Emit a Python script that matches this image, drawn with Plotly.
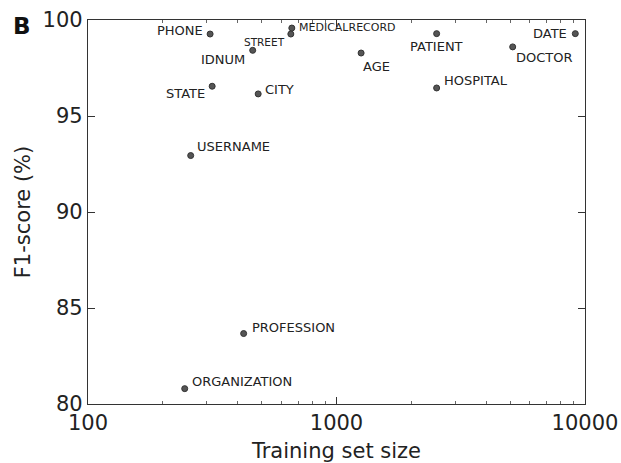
import math
import plotly.graph_objects as go

labels = ["PHONE", "MEDICALRECORD", "STREET", "IDNUM", "STATE", "CITY", "USERNAME",
          "PROFESSION", "ORGANIZATION", "AGE", "PATIENT", "HOSPITAL", "DOCTOR", "DATE"]
train_size = [310, 661, 655, 460, 316, 484, 259, 423, 245, 1256, 2529, 2529, 5117, 9140]
f1_score = [99.27, 99.58, 99.27, 98.42, 96.55, 96.15, 92.94, 83.67, 80.80, 98.28, 99.29, 96.46, 98.60, 99.29]

x_tick_vals = [100, 1000, 10000]
x_tick_text = ["100", "1000", "10000"]
x_minor_vals = [200, 300, 400, 500, 600, 700, 800, 900,
                2000, 3000, 4000, 5000, 6000, 7000, 8000, 9000]
y_tick_vals = [80, 85, 90, 95, 100]

# label placement styles (anchor, xshift, yshift, font size)
label_style = {
    "PHONE": ("right", -5, 4, 13),
    "MEDICALRECORD": ("left", 5, 1, 11),
    "STREET": ("right", -4, -8, 10.5),
    "IDNUM": ("right", -6, -9, 13),
    "STATE": ("right", -5, -7, 13),
    "CITY": ("left", 5, 4, 13),
    "USERNAME": ("left", 4, 9, 13),
    "PROFESSION": ("left", 6, 6, 13),
    "ORGANIZATION": ("left", 5, 7, 13),
    "AGE": ("left", 0, -13, 13),
    "PATIENT": ("center", 0, -13, 13),
    "HOSPITAL": ("left", 5, 7, 13),
    "DOCTOR": ("left", 1, -11, 13),
    "DATE": ("right", -6, 0, 13),
}

font_family = "DejaVu Sans"

fig = go.Figure()
fig.add_trace(go.Scatter(
    x=train_size, y=f1_score, mode="markers",
    marker=dict(size=6, color="#555555", line=dict(color="#333333", width=1)),
    cliponaxis=False, showlegend=False, hoverinfo="text", text=labels,
))

annotations = []
for lab, xv, yv in zip(labels, train_size, f1_score):
    anchor, xs, ys, fs = label_style[lab]
    annotations.append(dict(
        x=math.log10(xv), y=yv, xref="x", yref="y", text=lab, showarrow=False,
        xanchor=anchor, yanchor="middle", xshift=xs, yshift=ys,
        font=dict(family=font_family, size=fs, color="#222222"),
    ))
annotations.append(dict(
    x=0, y=1, xref="paper", yref="paper", text="<b>B</b>", showarrow=False,
    xanchor="left", yanchor="top", xshift=-77, yshift=9,
    font=dict(family=font_family, size=23, color="#111111"),
))

fig.update_layout(
    width=621, height=463,
    margin=dict(l=88, r=36, t=20, b=59, autoexpand=False),
    paper_bgcolor="white", plot_bgcolor="white",
    font=dict(family=font_family, color="#222222"),
    annotations=annotations,
    xaxis=dict(
        type="log", range=[2, 4], automargin=False,
        tickvals=x_tick_vals, ticktext=x_tick_text,
        ticks="inside", ticklen=7, tickcolor="#333333", tickwidth=1,
        minor=dict(ticks="inside", ticklen=3, tickcolor="#666666", showgrid=False,
                   tickvals=x_minor_vals),
        showline=True, linecolor="#333333", linewidth=1.2, mirror="ticks",
        showgrid=False, zeroline=False,
        tickfont=dict(size=21, family=font_family, color="#222222"),
        title=dict(text="Training set size", font=dict(size=21, family=font_family, color="#222222"), standoff=9),
    ),
    yaxis=dict(
        range=[80, 100], tickvals=y_tick_vals, automargin=False,
        ticks="inside", ticklen=7, tickcolor="#333333", tickwidth=1,
        showline=True, linecolor="#333333", linewidth=1.2, mirror="ticks",
        showgrid=False, zeroline=False,
        tickfont=dict(size=21, family=font_family, color="#222222"),
        title=dict(text="F1-score (%)", font=dict(size=21, family=font_family, color="#222222"), standoff=6),
    ),
)

fig.write_html("out.html", config={"displayModeBar": False},
               post_script="document.body.style.margin='0px';document.body.style.overflow='hidden';")
